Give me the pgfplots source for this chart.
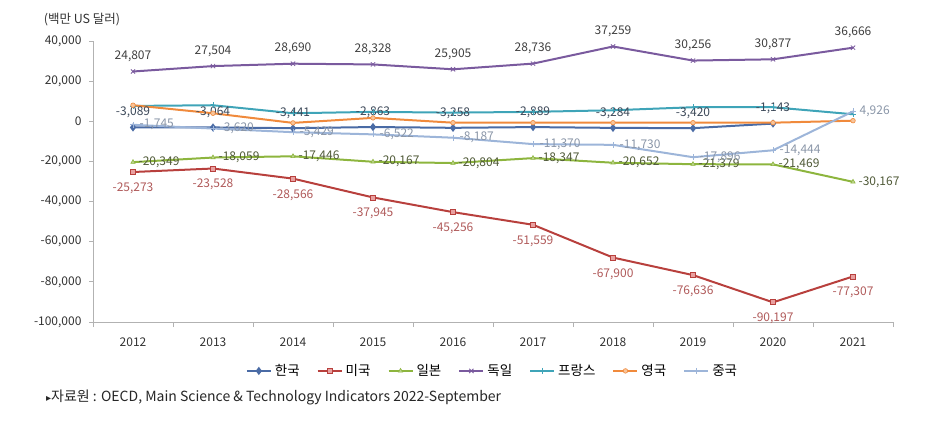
\documentclass[border=0pt]{standalone}
\usepackage{fontspec}
\setmainfont{Noto Sans CJK KR}
\newfontfamily\srcfont{Noto Sans CJK KR}
\newfontfamily\symfont{DejaVu Sans}
\usepackage{pgfplots}
\pgfplotsset{compat=1.18}
\definecolor{cKor}{HTML}{4A6BA5}
\definecolor{cUS}{HTML}{B8403D}
\definecolor{cUSf}{HTML}{E8A0A0}
\definecolor{cJap}{HTML}{8DB53E}
\definecolor{cGer}{HTML}{7A5A9E}
\definecolor{cFra}{HTML}{3FA4B8}
\definecolor{cUK}{HTML}{F08A3C}
\definecolor{cUKf}{HTML}{F8C49A}
\definecolor{cChi}{HTML}{9DB5D9}
\definecolor{lKor}{HTML}{3C4858}
\definecolor{lUS}{HTML}{B05A5A}
\definecolor{lJap}{HTML}{505A38}
\definecolor{lGer}{HTML}{404040}
\definecolor{lChi}{HTML}{8A96A8}
\newcommand\lblfont{\fontsize{12}{13}\selectfont}

\pgfplotstableread{
x y
0 -3089
1 -3064
2 -3441
3 -2863
4 -3258
5 -2889
6 -3284
7 -3420
8 -1143
}\korea
\pgfplotstableread{
x y
0 -25273
1 -23528
2 -28566
3 -37945
4 -45256
5 -51559
6 -67900
7 -76636
8 -90197
9 -77307
}\usa
\pgfplotstableread{
x y
0 -20349
1 -18059
2 -17446
3 -20167
4 -20804
5 -18347
6 -20652
7 -21379
8 -21469
9 -30167
}\japan
\pgfplotstableread{
x y
0 24807
1 27504
2 28690
3 28328
4 25905
5 28736
6 37259
7 30256
8 30877
9 36666
}\germany
\pgfplotstableread{
x y
0 7650
1 8000
2 4000
3 4700
4 4300
5 4700
6 5500
7 7000
8 7000
9 3500
}\france
\pgfplotstableread{
x y
0 8000
1 4000
2 -800
3 1700
4 -700
5 -700
6 -700
7 -700
8 -700
9 300
}\uk
\pgfplotstableread{
x y
0 -1745
1 -3620
2 -5429
3 -6522
4 -8187
5 -11370
6 -11730
7 -17896
8 -14444
9 4926
}\china

\begin{document}
\begin{tikzpicture}[x=1pt,y=1pt]
\useasboundingbox (0,0) rectangle (931,424);
\node[anchor=center,font=\fontsize{12.5}{14}\selectfont,text=black!80] at (82,404) {(백만 US 달러)};
\node[anchor=west,font=\srcfont\fontsize{14}{16}\selectfont,text=black!85,inner sep=0pt] at (46,27) {{\symfont\fontsize{10}{12}\selectfont ▸}자료원 : OECD, Main Science \& Technology Indicators 2022-September};
\begin{axis}[
  at={(93pt,102pt)}, anchor=south west,
  scale only axis, width=800pt, height=281pt,
  xmin=-0.5, xmax=9.5, ymin=-100000, ymax=40000,
  clip=false,
  axis x line=bottom, axis y line=left,
  axis line style={draw=gray!60, line width=0.8pt, -},
  xtick={0,...,9},
  xticklabels={2012,2013,2014,2015,2016,2017,2018,2019,2020,2021},
  major x tick style={draw=none},
  minor xtick={-0.5,0.5,...,9.5},
  minor x tick style={draw=gray!60, line width=0.8pt},
  minor tick length=5pt,
  ytick={-100000,-80000,...,40000},
  y tick style={draw=gray!60, line width=0.8pt},
  major tick length=4pt,
  tick align=outside,
  scaled y ticks=false,
  /pgf/number format/.cd, fixed, precision=0, 1000 sep={,}, assume math mode=true,
  /pgfplots/.cd,
  ticklabel style={font=\fontsize{12}{13}\selectfont, text=black!80},
  xticklabel style={yshift=-8pt},
  yticklabel style={xshift=-4pt},
  legend columns=7,
  legend style={draw=none, at={(0.50,-0.174)}, anchor=center, font=\fontsize{13.5}{15}\selectfont,
    /tikz/every even column/.append style={column sep=14pt}, inner sep=0pt,
    nodes={inner xsep=3pt}},
  legend image code/.code={\draw[#1, mark repeat=2, mark phase=2] plot coordinates {(0pt,0pt) (12pt,0pt) (24pt,0pt)};},
  legend cell align=left,
  every axis plot/.append style={line width=2pt},
]
\addplot[color=cKor, mark=diamond*, mark size=2.5pt, mark options={fill=cKor},
  nodes near coords, every node near coord/.append style={anchor=south, yshift=5pt, text=lKor, font=\lblfont}]
  table {\korea};
\addlegendentry{한국}
\addplot[color=cUS, mark=square*, mark size=2.5pt, mark options={fill=cUSf, draw=cUS, line width=0.8pt},
  nodes near coords, every node near coord/.append style={anchor=north, yshift=-7pt, text=lUS, font=\lblfont}]
  table {\usa};
\addlegendentry{미국}
\addplot[color=cJap, mark=triangle*, mark size=2.5pt, mark options={fill=cJap!60, line width=0.6pt},
  nodes near coords, every node near coord/.append style={anchor=west, xshift=2pt, text=lJap, font=\lblfont}]
  table {\japan};
\addlegendentry{일본}
\addplot[color=cGer, mark=x, mark size=3pt, mark options={line width=0.8pt},
  nodes near coords, every node near coord/.append style={anchor=south, yshift=6pt, text=lGer, font=\lblfont}]
  table {\germany};
\addlegendentry{독일}
\addplot[color=cFra, mark=+, mark size=3pt, mark options={line width=0.8pt}]
  table {\france};
\addlegendentry{프랑스}
\addplot[color=cUK, mark=*, mark size=2.3pt, mark options={fill=cUKf, draw=cUK, line width=0.6pt}]
  table {\uk};
\addlegendentry{영국}
\addplot[color=cChi, mark=+, mark size=3pt, mark options={line width=0.8pt},
  nodes near coords, every node near coord/.append style={anchor=west, xshift=3pt, text=lChi, font=\lblfont}]
  table {\china};
\addlegendentry{중국}
\end{axis}
\end{tikzpicture}
\end{document}
